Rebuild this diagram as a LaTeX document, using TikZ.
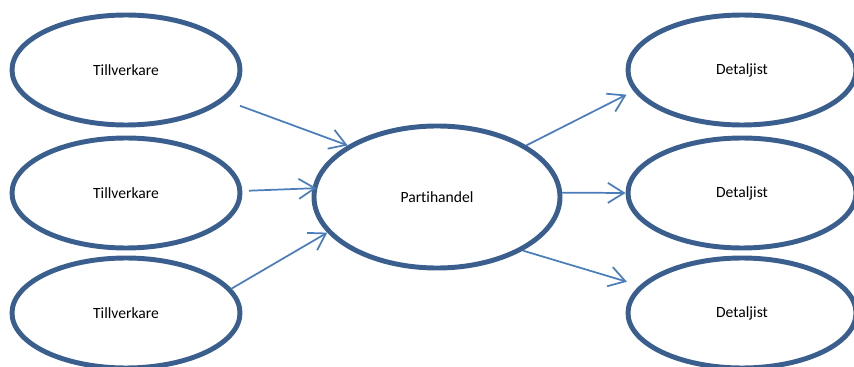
\documentclass[tikz,border=0pt]{standalone}
\usepackage{fontspec}
\setmainfont[RawFeature=-liga]{Carlito}
\usetikzlibrary{shapes.geometric,arrows.meta}
\definecolor{rimblue}{HTML}{3A5F8E}
\definecolor{flowblue}{HTML}{4A7EBB}
\begin{document}
\begin{tikzpicture}[x=0.75pt,y=-0.75pt,
  actor/.style={ellipse,draw=rimblue,line width=3.7pt,fill=white,
    minimum width=171pt,minimum height=82.5pt,inner sep=0pt,
    font=\fontsize{11.7}{14}\selectfont},
  hub/.style={actor,minimum width=184.5pt,minimum height=106.5pt},
  flow/.style={draw=flowblue,line width=1.3pt,
    -{Straight Barb[length=12pt,width=15pt,line width=1.3pt]}}]
  \useasboundingbox (0,0) rectangle (854,367);
  % producers
  \node[actor] (t1) at (126,70) {Tillverkare};
  \node[actor] (t2) at (126,193) {Tillverkare};
  \node[actor] (t3) at (126,313) {Tillverkare};
  % wholesaler
  \node[hub] (ph) at (437,197) {Partihandel};
  % retailers
  \node[actor] (d1) at (742,70) {Detaljist};
  \node[actor] (d2) at (742,193) {Detaljist};
  \node[actor] (d3) at (742,313) {Detaljist};
  % goods flow into the wholesaler
  \draw[flow,shorten <=12pt] (t1.-17.5) -- (ph.150);
  \draw[flow,shorten <=5pt,shorten >=-3pt] (t2.1.9) -- (ph.176.7);
  \draw[flow] (t3.13.8) -- (ph.198.4);
  % goods flow out to the retailers
  \draw[flow,shorten >=6pt] (ph.30.1) -- (d1.191.3);
  \draw[flow] (ph.2.3) -- (d2.180);
  \draw[flow,shorten >=10pt] (ph.-32.9) -- (d3.165.4);
\end{tikzpicture}
\end{document}
